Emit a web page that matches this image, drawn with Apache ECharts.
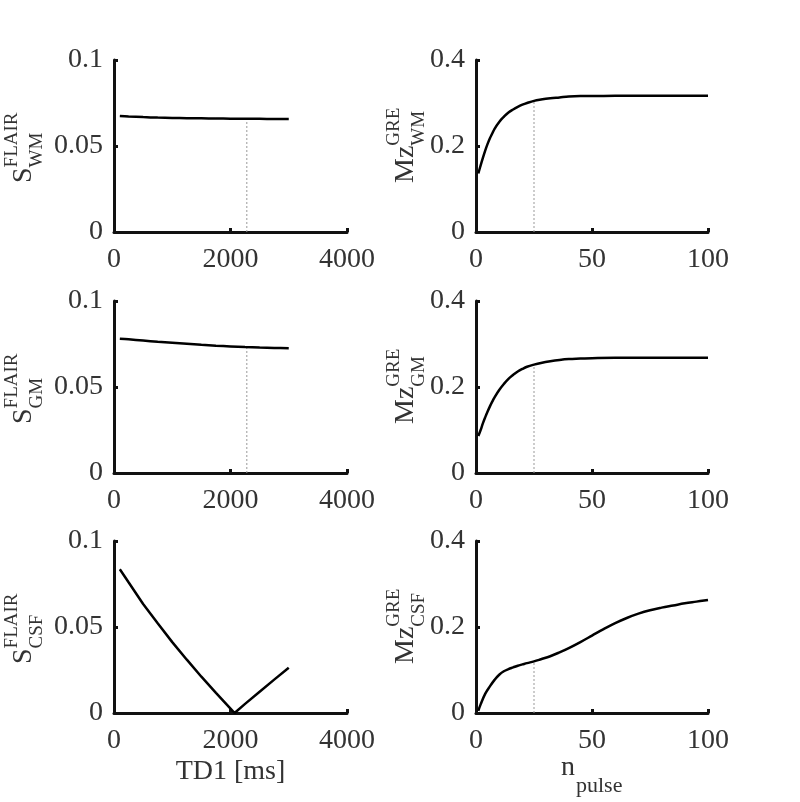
<!DOCTYPE html>
<html><head><meta charset="utf-8">
<script src="https://cdn.jsdelivr.net/npm/echarts@6/dist/echarts.min.js"></script>
<style>html,body{margin:0;padding:0;background:#fff}#c{width:800px;height:802px}</style>
</head><body><div id="c"></div>
<script>
// ---- data ----
const td1 = [100, 250, 500, 750, 1000, 1250, 1500, 1750, 2000, 2250, 2500, 2750, 3000];
const sFlairWM = [0.0675, 0.0672, 0.0668, 0.0665, 0.0663, 0.0662, 0.0661, 0.0660, 0.0659, 0.0658, 0.0658, 0.0657, 0.0657];
const sFlairGM = [0.0781, 0.0777, 0.0770, 0.0763, 0.0757, 0.0751, 0.0745, 0.0740, 0.0736, 0.0732, 0.0729, 0.0727, 0.0725];
const td1CSF = [100, 250, 500, 750, 1000, 1250, 1500, 1750, 2000, 2070, 2250, 2500, 2750, 3000];
const sFlairCSF = [0.0836, 0.0760, 0.0634, 0.0522, 0.0412, 0.0310, 0.0211, 0.0117, 0.0026, 0.0, 0.0053, 0.0124, 0.0194, 0.0263];
const nPulse = [1, 2, 3, 4, 5, 6, 7, 8, 10, 12, 14, 16, 18, 20, 22, 25, 28, 32, 36, 40, 45, 50, 60, 70, 80, 90, 100];
const mzWM = [0.136, 0.155, 0.173, 0.190, 0.205, 0.218, 0.229, 0.240, 0.256, 0.268, 0.278, 0.285, 0.291, 0.296, 0.300, 0.305, 0.308, 0.311, 0.313, 0.315, 0.316, 0.316, 0.317, 0.317, 0.317, 0.317, 0.317];
const mzGM = [0.086, 0.100, 0.116, 0.130, 0.143, 0.155, 0.166, 0.176, 0.193, 0.207, 0.219, 0.228, 0.236, 0.242, 0.247, 0.252, 0.256, 0.260, 0.263, 0.265, 0.266, 0.267, 0.268, 0.268, 0.268, 0.268, 0.268];
const nPulseCSF = [1, 2, 4, 6, 8, 10, 12, 14, 16, 18, 20, 22, 25, 28, 32, 36, 40, 45, 50, 55, 60, 65, 70, 75, 80, 85, 90, 95, 100];
const mzCSF = [0.005, 0.020, 0.045, 0.062, 0.077, 0.089, 0.097, 0.102, 0.106, 0.110, 0.113, 0.116, 0.120, 0.125, 0.132, 0.141, 0.151, 0.165, 0.180, 0.195, 0.209, 0.221, 0.231, 0.239, 0.245, 0.250, 0.255, 0.259, 0.263];
const markerTD1 = 2280;   // dotted marker on TD1 panels (WM, GM)
const markerN = 25;       // dotted marker on n_pulse panels
const xTicksTD1 = [0, 4000, 2000];  // min, max, interval
const yTicksFlair = [0, 0.1, 0.05];
const xTicksN = [0, 100, 50];
const yTicksMz = [0, 0.4, 0.2];

// ---- helpers ----
function pairs(xs, ys) { return xs.map((x, i) => [x, ys[i]]); }
function interp(xs, ys, x) {
  for (let i = 0; i < xs.length - 1; i++) {
    if (x >= xs[i] && x <= xs[i + 1]) {
      const t = (x - xs[i]) / (xs[i + 1] - xs[i]);
      return ys[i] + t * (ys[i + 1] - ys[i]);
    }
  }
  return ys[ys.length - 1];
}
const FONT = '"Liberation Serif", "Times New Roman", serif';
const TXT = '#333';

const gridPos = [
  {left: 114, top: 60}, {left: 476, top: 60},
  {left: 114, top: 301}, {left: 476, top: 301},
  {left: 114, top: 541}, {left: 476, top: 541}
];
const grids = gridPos.map((g, i) => ({left: g.left, top: g.top, width: i % 2 ? 232 : 233, height: 172, containLabel: false}));

function axisCommon() {
  return {
    axisLine: {show: true, lineStyle: {color: '#111', width: 3}},
    axisTick: {show: true, inside: true, length: 4, lineStyle: {color: '#111', width: 3}},
    splitLine: {show: false},
    axisLabel: {fontFamily: FONT, fontSize: 28, color: TXT, formatter: v => String(v)}
  };
}
const xAxes = [], yAxes = [];
for (let i = 0; i < 6; i++) {
  const xt = i % 2 ? xTicksN : xTicksTD1;
  const yt = i % 2 ? yTicksMz : yTicksFlair;
  const xa = axisCommon(); xa.type = 'value'; xa.gridIndex = i; xa.min = xt[0]; xa.max = xt[1]; xa.interval = xt[2];
  xa.axisLabel.margin = 14;
  const ya = axisCommon(); ya.type = 'value'; ya.gridIndex = i; ya.min = yt[0]; ya.max = yt[1]; ya.interval = yt[2];
  ya.axisLabel.margin = 11;
  xAxes.push(xa); yAxes.push(ya);
}

function curve(i, xs, ys, smooth) {
  return {type: 'line', xAxisIndex: i, yAxisIndex: i, data: pairs(xs, ys), showSymbol: false, symbol: 'none',
    smooth: smooth, lineStyle: {color: '#000', width: 2.5}, silent: true, z: 3};
}
function marker(i, x, xs, ys) {
  return {type: 'line', xAxisIndex: i, yAxisIndex: i, data: [[x, 0], [x, interp(xs, ys, x)]], showSymbol: false, symbol: 'none',
    lineStyle: {color: '#999', width: 1, type: [2, 2]}, silent: true, z: 2};
}

const series = [
  curve(0, td1, sFlairWM, 0.3), marker(0, markerTD1, td1, sFlairWM),
  curve(1, nPulse, mzWM, 0.4), marker(1, markerN, nPulse, mzWM),
  curve(2, td1, sFlairGM, 0.3), marker(2, markerTD1, td1, sFlairGM),
  curve(3, nPulse, mzGM, 0.4), marker(3, markerN, nPulse, mzGM),
  curve(4, td1CSF, sFlairCSF, false),
  curve(5, nPulseCSF, mzCSF, 0.4), marker(5, markerN, nPulseCSF, mzCSF)
];

// composite y-axis labels (main + superscript + subscript), rotated
function ylabel(x, yStart, main, mainW, sup, sub) {
  return {type: 'group', x: x, y: yStart, rotation: Math.PI / 2, silent: true, children: [
    {type: 'text', style: {x: 0, y: 0, text: main, font: '28px ' + FONT, fill: TXT, align: 'left', verticalAlign: 'middle'}},
    {type: 'text', style: {x: mainW, y: -12, text: sup, font: '19px ' + FONT, fill: TXT, align: 'left', verticalAlign: 'middle'}},
    {type: 'text', style: {x: mainW, y: 13, text: sub, font: '19px ' + FONT, fill: TXT, align: 'left', verticalAlign: 'middle'}}
  ]};
}
const rowCenters = [146, 387, 627];
const leftNames = ['WM', 'GM', 'CSF'];
const graphics = [];
rowCenters.forEach((c, r) => {
  graphics.push(ylabel(24, c + 37, 'S', 15.6, 'FLAIR', leftNames[r]));
  graphics.push(ylabel(406, c + 37, 'Mz', 37.3, 'GRE', leftNames[r]));
});
graphics.push({type: 'text', silent: true, style: {x: 230.5, y: 772, text: 'TD1 [ms]', font: '28px ' + FONT, fill: TXT, align: 'center', verticalAlign: 'middle'}});
graphics.push({type: 'text', silent: true, style: {x: 561, y: 768, text: 'n', font: '28px ' + FONT, fill: TXT, align: 'left', verticalAlign: 'middle'}});
graphics.push({type: 'text', silent: true, style: {x: 576, y: 786, text: 'pulse', font: '22px ' + FONT, fill: TXT, align: 'left', verticalAlign: 'middle'}});

const chart = echarts.init(document.getElementById('c'), null, {renderer: 'canvas'});
chart.setOption({
  backgroundColor: '#fff',
  animation: false,
  grid: grids,
  xAxis: xAxes,
  yAxis: yAxes,
  series: series,
  graphic: graphics
});
</script>
</body></html>
